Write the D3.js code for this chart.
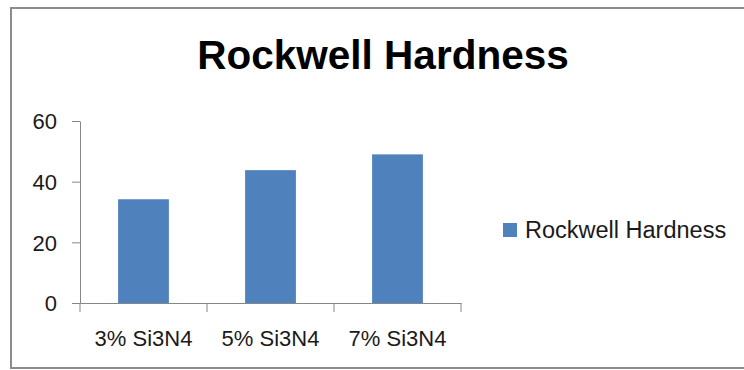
<!DOCTYPE html>
<html>
<head>
<meta charset="utf-8">
<script src="https://cdn.jsdelivr.net/npm/d3@7"></script>
<style>
  html, body { margin: 0; padding: 0; background: #fff; }
  svg text { font-family: "Liberation Sans", Arial, sans-serif; fill: #1a1a1a; }
</style>
</head>
<body>
<div id="chart"></div>
<script>
// chart values
var categories = ["3% Si3N4", "5% Si3N4", "7% Si3N4"];
var hardness = [34.2, 43.8, 49];
var yTicks = [0, 20, 40, 60];
var seriesName = "Rockwell Hardness";
var chartTitle = "Rockwell Hardness";

var W = 744, H = 370;
var barColor = "#4f81bd", axisColor = "#868686";

var svg = d3.select("#chart").append("svg")
  .attr("width", W).attr("height", H);

// outer frame
svg.append("rect")
  .attr("x", 11).attr("y", 8)
  .attr("width", 800).attr("height", 360)
  .attr("fill", "#fff")
  .attr("stroke", "#8c8c8c").attr("stroke-width", 2);

svg.append("text")
  .attr("x", 383).attr("y", 69)
  .attr("text-anchor", "middle")
  .style("font-size", "40.5px").style("font-weight", "bold")
  .style("fill", "#000")
  .text(chartTitle);

var plotLeft = 80, plotRight = 461, plotTop = 121, plotBottom = 303;

var x0 = d3.scaleBand().domain(categories).range([plotLeft, plotRight]);
var x = d3.scaleBand().domain(categories).range([plotLeft, plotRight])
  .paddingInner(0.6).paddingOuter(0.3);
var y = d3.scaleLinear().domain([0, 60]).range([plotBottom, plotTop]);

// y axis
var yAxis = svg.append("g")
  .attr("transform", "translate(" + plotLeft + ",0)")
  .call(d3.axisLeft(y).tickValues(yTicks).tickSize(8).tickSizeOuter(0).tickPadding(15));
yAxis.select(".domain").attr("stroke", axisColor);
yAxis.selectAll(".tick line").attr("stroke", axisColor);
yAxis.selectAll(".tick text").style("font-size", "22px")
  .attr("font-family", null).attr("dy", "0.36em");

// bars
svg.selectAll("rect.bar")
  .data(hardness)
  .enter().append("rect")
    .attr("class", "bar")
    .attr("x", function (d, i) { return x(categories[i]); })
    .attr("width", x.bandwidth())
    .attr("y", function (d) { return y(d); })
    .attr("height", function (d) { return y(0) - y(d); })
    .attr("fill", barColor);

// x axis with category boundary ticks
var xAxis = svg.append("g")
  .attr("transform", "translate(0," + plotBottom + ")")
  .call(d3.axisBottom(x0).tickSize(0).tickSizeOuter(0).tickPadding(27));
xAxis.select(".domain").attr("stroke", axisColor);
xAxis.selectAll(".tick text").style("font-size", "22px").attr("font-family", null);

var bounds = categories.map(function (c) { return x0(c); }).concat([plotRight]);
xAxis.selectAll("line.bound")
  .data(bounds)
  .enter().append("line")
    .attr("class", "bound")
    .attr("x1", function (d) { return d; }).attr("x2", function (d) { return d; })
    .attr("y1", 0).attr("y2", 9)
    .attr("stroke", axisColor);

// legend
var legend = svg.append("g").attr("transform", "translate(503,223)");
legend.append("rect").attr("width", 14).attr("height", 14).attr("fill", barColor);
legend.append("text").attr("x", 22).attr("y", 15)
  .style("font-size", "23.5px")
  .text(seriesName);
</script>
</body>
</html>
